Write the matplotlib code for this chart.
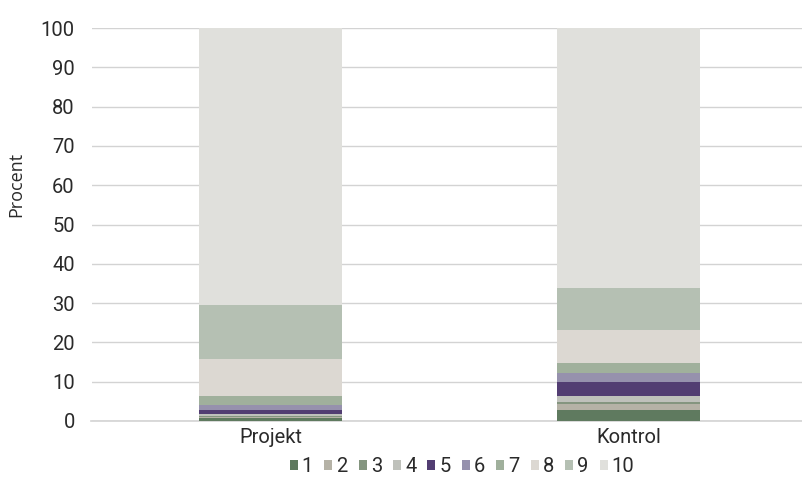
import matplotlib
matplotlib.use("Agg")
import matplotlib.pyplot as plt
from matplotlib.patches import Patch
import numpy as np

plt.rcParams['font.family'] = ['Roboto', 'DejaVu Sans']

categories = ["Projekt", "Kontrol"]
series_names = ["1", "2", "3", "4", "5", "6", "7", "8", "9", "10"]
s1 = [0.8, 2.8]
s2 = [0.3, 1.45]
s3 = [0.2, 0.65]
s4 = [0.55, 1.45]
s5 = [1.0, 3.65]
s6 = [1.3, 2.3]
s7 = [2.3, 2.5]
s8 = [9.4, 8.4]
s9 = [13.7, 10.6]
s10 = [70.5, 66.2]
series = [s1, s2, s3, s4, s5, s6, s7, s8, s9, s10]
colors = ["#5f7a5f", "#b5b2a6", "#84957f", "#bfc1bb", "#523d72",
          "#9691ad", "#a0b09c", "#dcd8d2", "#b5c0b3", "#e0e0dc"]
yticks = [0, 10, 20, 30, 40, 50, 60, 70, 80, 90, 100]

fig = plt.figure(figsize=(8.02, 4.78), dpi=100)
ax = fig.add_axes([91.5/802, 1-421/478, 716/802, (421-28)/478])

x = np.arange(len(categories))
bottom = np.zeros(len(categories))
for name, vals, c in zip(series_names, series, colors):
    ax.bar(x, vals, bottom=bottom, width=0.40, color=c, label=name, zorder=3)
    bottom += np.array(vals)

ax.set_xlim(-0.5, 1.5)
ax.set_ylim(0, 100)
ax.set_yticks(yticks)
ax.set_yticklabels([str(t) for t in yticks])
ax.set_xticks(x)
ax.set_xticklabels(categories)
ax.yaxis.grid(True, color="#d3d3d3", linewidth=1.0, zorder=0)
ax.set_axisbelow(True)
for sp in ["top", "right", "left"]:
    ax.spines[sp].set_visible(False)
ax.spines["bottom"].set_color("#d3d3d3")
ax.spines["bottom"].set_linewidth(1.2)
ax.tick_params(axis="both", length=0, labelsize=14.5, colors="#2a2a2a")
ax.tick_params(axis="y", pad=12)
ax.tick_params(axis="x", pad=5)
ax.set_ylabel("Procent", fontsize=13, color="#2a2a2a",
              family=['Open Sans', 'DejaVu Sans'])
ax.yaxis.set_label_coords(-0.093, 0.603)

handles = [Patch(facecolor=c, label=n) for n, c in zip(series_names, colors)]
fig.legend(handles=handles, loc="center", bbox_to_anchor=(462/802, 1-467/478),
           ncol=10, frameon=False, fontsize=14.5, handlelength=0.4, handleheight=0.4,
           handletextpad=0.2, columnspacing=0.55, labelcolor="#2a2a2a",
           borderpad=0, borderaxespad=0)

fig.savefig("out.png", dpi=100)
